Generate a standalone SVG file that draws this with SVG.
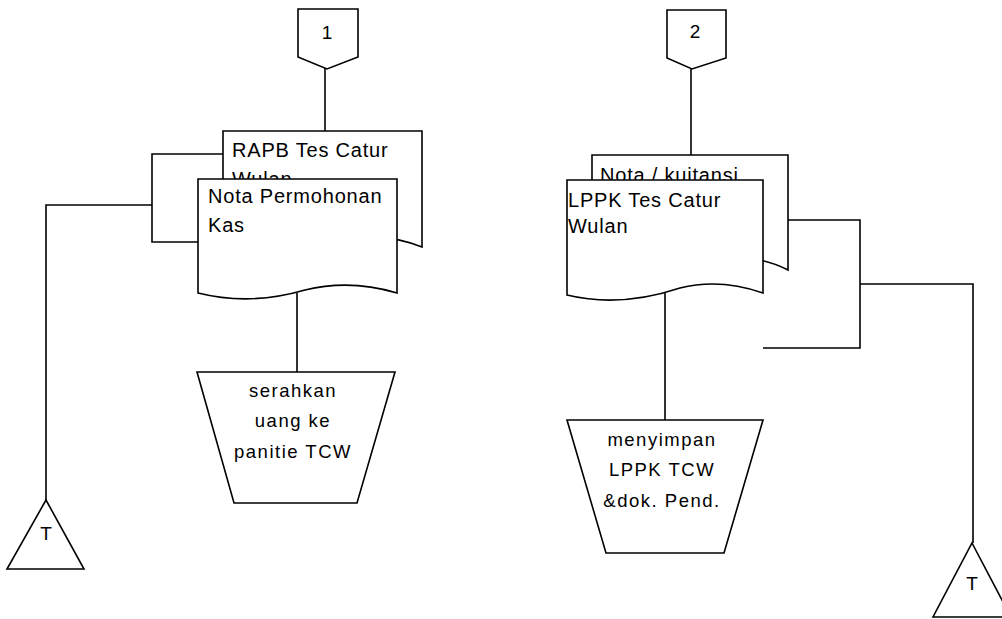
<svg xmlns="http://www.w3.org/2000/svg" width="1002" height="619" viewBox="0 0 1002 619">
<style>
.s{fill:#fff;stroke:#000;stroke-width:1.6;stroke-linejoin:miter}
.c{fill:none;stroke:#000;stroke-width:1.6}
.t{font-family:"Liberation Sans",Arial,sans-serif;font-size:20px;letter-spacing:0.8px;fill:#000}
.p{font-family:"Liberation Sans",Arial,sans-serif;font-size:18.5px;letter-spacing:1.5px;fill:#000;text-anchor:middle}
.n{font-family:"Liberation Sans",Arial,sans-serif;font-size:19px;fill:#000;text-anchor:middle}
</style>
<rect width="1002" height="619" fill="#fff"/>
<g id="connectors">
<path class="c" d="M325,68 V131"/>
<path class="c" d="M223,154 H152 V242 H198"/>
<path class="c" d="M152,205 H46 V500"/>
<path class="c" d="M297,293 V372"/>
<path class="c" d="M691,68 V155"/>
<path class="c" d="M788,220 H860 V348 H763"/>
<path class="c" d="M860,284 H973 V543"/>
<path class="c" d="M665,290 V420"/>
</g>
<g id="offpage1">
<path class="s" d="M298,9 H358 V57 L327,69 L298,57 Z"/>
<text class="n" x="327" y="39">1</text>
</g>
<g id="offpage2">
<path class="s" d="M667,10 H726 V58 L692,69 L667,58 Z"/>
<text class="n" x="695" y="38">2</text>
</g>
<g id="doc-rapb">
<path class="s" d="M223,131 H422 V247 Q386,233 355,240 Q300,254 268,240 Q245,230 223,240 Z"/>
<text class="t" x="232" y="157">RAPB Tes Catur</text>
<text class="t" x="232" y="186">Wulan</text>
</g>
<g id="doc-nota-permohonan">
<path class="s" d="M198,179 H397 V293 Q350,279 305,290 Q250,306 198,293 Z"/>
<text class="t" x="208" y="203">Nota Permohonan</text>
<text class="t" x="208" y="232">Kas</text>
</g>
<g id="doc-nota-kuitansi">
<path class="s" d="M592,155 H788 V270 Q752,252 720,262 Q670,276 640,265 Q615,257 592,265 Z"/>
<text class="t" x="600" y="182">Nota / kuitansi</text>
</g>
<g id="doc-lppk">
<path class="s" d="M567,180 H763 V293 Q720,278 680,288 Q620,308 567,295 Z"/>
<text class="t" x="568" y="207">LPPK Tes Catur</text>
<text class="t" x="568" y="233">Wulan</text>
</g>
<g id="proc-serahkan">
<path class="s" d="M197,372 H395 L357,503 H234 Z"/>
<text class="p" x="293" y="397">serahkan</text>
<text class="p" x="293" y="427">uang ke</text>
<text class="p" x="293" y="458">panitie TCW</text>
</g>
<g id="proc-menyimpan">
<path class="s" d="M567,420 H763 L724,553 H606 Z"/>
<text class="p" x="662" y="446">menyimpan</text>
<text class="p" x="662" y="476">LPPK TCW</text>
<text class="p" x="662" y="507">&amp;dok. Pend.</text>
</g>
<g id="store-left">
<path class="s" d="M46,500 L84,569 H7 Z"/>
<text class="n" x="46" y="540">T</text>
</g>
<g id="store-right">
<path class="s" d="M972,543 L1011,617 H933 Z"/>
<text class="n" x="972" y="590">T</text>
</g>
</svg>
